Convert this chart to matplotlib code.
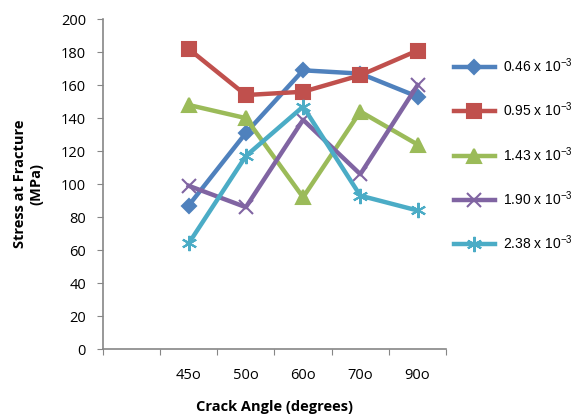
import numpy as np
import matplotlib.pyplot as plt
from matplotlib.ticker import FixedLocator, NullFormatter

plt.rcParams['font.family'] = ['Open Sans', 'DejaVu Sans']
plt.rcParams['mathtext.default'] = 'regular'

angles = ['', '45o', '50o', '60o', '70o', '90o']
labels = ['0.46 x 10$^{-3}$', '0.95 x 10$^{-3}$', '1.43 x 10$^{-3}$',
          '1.90 x 10$^{-3}$', '2.38 x 10$^{-3}$']
s046 = [87, 131, 169, 167, 153]
s095 = [182, 154, 156, 166, 181]
s143 = [148, 140, 92, 144, 124]
s190 = [99, 86, 139, 106, 160]
s238 = [64, 117, 147, 93, 84]

series = [s046, s095, s143, s190, s238]
colors = ['#4F81BD', '#C0504D', '#9BBB59', '#8064A2', '#4BACC6']
markers = ['D', 's', '^', 'x', (6, 2, 0)]
msizes = [7, 10, 10, 10, 11]

fig = plt.figure(figsize=(5.84, 4.17), dpi=100)
ax = fig.add_axes([0.176, 0.163, 0.588, 0.791])

x = np.arange(1, len(angles)) + 0.5
for y, c, m, ms, lab in zip(series, colors, markers, msizes, labels):
    ax.plot(x, y, color=c, lw=3.2, marker=m, ms=ms, mew=1.5,
            mec=c, mfc=c, label=lab)

ax.set_xlim(0, len(angles))
ax.set_ylim(0, 200)
ax.set_yticks(np.arange(0, 201, 20))
ax.xaxis.set_major_locator(FixedLocator(np.arange(0, len(angles) + 1)))
ax.xaxis.set_major_formatter(NullFormatter())
ax.xaxis.set_minor_locator(FixedLocator(np.arange(len(angles)) + 0.5))
ax.set_xticklabels(angles, minor=True)
ax.tick_params(axis='x', which='minor', length=0, pad=14, labelsize=10.5)
ax.tick_params(axis='x', which='major', length=4, color='#868686', direction='out')
ax.tick_params(axis='y', length=4, color='#868686', labelsize=10.5, pad=8)

for side in ['top', 'right']:
    ax.spines[side].set_visible(False)
for side in ['left', 'bottom']:
    ax.spines[side].set_color('#868686')
    ax.spines[side].set_linewidth(1.2)

ax.set_ylabel('Stress at Fracture\n(MPa)', fontweight='bold', fontsize=10.5, labelpad=13)
ax.set_xlabel('Crack Angle (degrees)', fontweight='bold', fontsize=10.5, labelpad=12)

leg = ax.legend(loc='upper left', bbox_to_anchor=(0.985, 0.925), frameon=False,
                labelspacing=1.85, handlelength=3.0, handletextpad=0.55,
                prop={'family': ['Liberation Sans', 'DejaVu Sans'], 'size': 10})

fig.savefig('out.png', dpi=100)
